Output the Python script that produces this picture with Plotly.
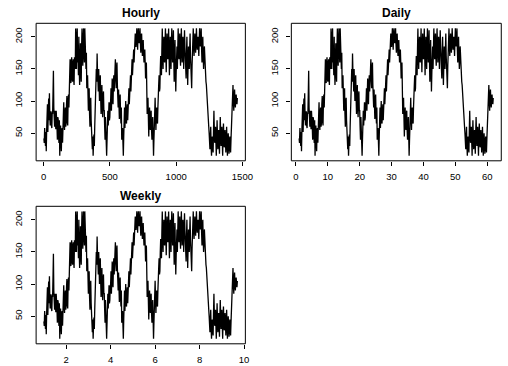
import plotly.graph_objects as go

W, H = 508, 366

# Series readings at hours 1, 7, 13, 19 of each day (61 days)
day_readings = [
    [42, 58, 30, 22], [78, 52, 104, 112], [62, 84, 58, 80], [147, 70, 85, 56],
    [78, 40, 72, 35], [15, 62, 22, 58], [60, 98, 55, 90], [65, 108, 62, 110],
    [120, 165, 128, 168], [130, 165, 125, 160], [213, 150, 213, 170], [200, 125, 190, 130],
    [213, 155, 213, 160], [200, 150, 120, 140], [85, 120, 60, 105], [50, 25, 15, 48],
    [60, 110, 150, 174], [135, 150, 100, 140], [80, 125, 75, 115], [85, 40, 60, 15],
    [70, 62, 98, 75], [100, 85, 135, 95], [140, 130, 165, 120], [160, 100, 118, 72],
    [110, 65, 40, 58], [15, 75, 58, 100], [65, 95, 85, 120], [110, 140, 130, 165],
    [150, 180, 175, 205], [185, 213, 180, 213], [190, 213, 175, 205], [170, 195, 160, 180],
    [135, 160, 80, 105], [45, 90, 55, 85], [40, 75, 15, 60], [105, 55, 90, 65],
    [100, 140, 120, 170], [140, 213, 150, 200], [160, 213, 145, 205], [165, 213, 140, 200],
    [150, 213, 160, 210], [130, 195, 115, 165], [150, 213, 165, 205], [155, 213, 160, 200],
    [150, 210, 170, 135], [200, 125, 185, 150], [205, 140, 120, 180], [213, 170, 205, 175],
    [213, 180, 200, 170], [213, 185, 213, 160], [200, 150, 185, 145], [130, 110, 95, 70],
    [50, 25, 60, 15], [45, 20, 85, 35], [60, 15, 70, 25], [55, 18, 75, 30],
    [60, 15, 65, 28], [55, 20, 60, 15], [50, 18, 45, 20], [65, 90, 125, 85],
    [118, 90, 110, 95],
]
# Readings at hours 4, 10, 16, 22 of each day
mid_readings = [
    [35, 40, 52, 55], [95, 85, 70, 75], [80, 62, 82, 110], [90, 60, 60, 85],
    [60, 75, 45, 70], [45, 30, 55, 35], [85, 65, 80, 60], [95, 70, 100, 90],
    [150, 130, 160, 135], [158, 135, 168, 150], [175, 200, 160, 140], [150, 170, 145, 185],
    [180, 195, 175, 213], [165, 175, 130, 110], [110, 80, 95, 70], [40, 45, 35, 30],
    [85, 90, 130, 145], [115, 125, 130, 105], [105, 90, 105, 85], [60, 75, 35, 40],
    [85, 90, 70, 95], [120, 110, 105, 125], [115, 150, 135, 150], [125, 90, 95, 100],
    [80, 90, 55, 35], [45, 90, 80, 70], [85, 70, 110, 95], [125, 115, 150, 140],
    [170, 160, 195, 185], [200, 195, 205, 195], [200, 190, 200, 185], [185, 175, 175, 160],
    [150, 120, 95, 70], [70, 65, 80, 55], [60, 45, 40, 85], [75, 80, 70, 90],
    [125, 115, 150, 150], [180, 175, 185, 165], [190, 175, 180, 175], [185, 175, 170, 170],
    [190, 180, 185, 165], [165, 150, 145, 185], [185, 190, 185, 170], [185, 190, 180, 175],
    [185, 185, 150, 175], [160, 155, 170, 180], [170, 150, 155, 200], [185, 190, 185, 195],
    [195, 190, 185, 195], [195, 200, 180, 185], [170, 165, 165, 140], [125, 100, 80, 60],
    [35, 45, 30, 35], [30, 55, 55, 50], [35, 45, 45, 40], [35, 50, 50, 45],
    [35, 45, 45, 40], [40, 40, 35, 35], [35, 30, 35, 40], [75, 110, 100, 105],
    [100, 105, 100, 105],
]

values = []
for day, mids in zip(day_readings, mid_readings):
    for a, b in zip(day, mids):
        values += [a, b]
hour_index = [1 + 3 * i for i in range(len(values))]
n_hours = 1464

panel_titles = ["Hourly", "Daily", "Weekly"]
hourly_ticks = [0, 500, 1000, 1500]
daily_ticks = [0, 10, 20, 30, 40, 50, 60]
weekly_ticks = [2, 4, 6, 8, 10]
y_ticks = [50, 100, 150, 200]

# time axis of each panel (frequency 1, 24 and 168 per unit)
x_hourly = hour_index
x_daily = [1 + (h - 1) / 24 for h in hour_index]
x_weekly = [1 + (h - 1) / 168 for h in hour_index]


def r_range(lo, hi):
    pad = 0.04 * (hi - lo)
    return [lo - pad, hi + pad]


yr = r_range(min(values), max(values))
xr_h = r_range(1, n_hours)
xr_d = r_range(1, 1 + (n_hours - 1) / 24)
xr_w = r_range(1, 1 + (n_hours - 1) / 168)

# plot boxes in pixels: (left, right, top, bottom)
box_h = (36.7, 249.3, 23.3, 160.8)
box_d = (296.0, 509.3, 23.3, 160.8)
box_w = (36.7, 249.3, 206.3, 343.8)

FONT = "Liberation Sans, Arial, Helvetica, sans-serif"
tickfont = dict(family=FONT, size=9.5, color="#000000")

fig = go.Figure()
for x, xa, ya in [(x_hourly, "x", "y"), (x_daily, "x2", "y2"), (x_weekly, "x3", "y3")]:
    fig.add_trace(go.Scatter(x=x, y=values, mode="lines", xaxis=xa, yaxis=ya,
                             line=dict(color="#000000", width=1.3), showlegend=False,
                             hoverinfo="skip"))


def xdom(b):
    return [b[0] / W, min(b[1], W) / W]


def ydom(b):
    return [1 - b[3] / H, 1 - b[2] / H]


def clip_range(rng, b):
    # the daily box runs past the right edge of the page; keep its scale
    if b[1] <= W:
        return rng
    span = rng[1] - rng[0]
    return [rng[0], rng[0] + span * (W - b[0]) / (b[1] - b[0])]


common_x = dict(showgrid=False, zeroline=False, showline=False, ticks="outside",
                ticklen=4, tickwidth=1, tickcolor="#000000", tickfont=tickfont,
                ticklabelstandoff=3)
common_y = dict(common_x, tickangle=-90, tickvals=y_ticks, range=yr,
                ticklabelstandoff=5)

layout = dict(width=W, height=H, margin=dict(l=0, r=0, t=0, b=0),
              paper_bgcolor="white", plot_bgcolor="white")
axes = [("xaxis", "yaxis", box_h, xr_h, hourly_ticks, "y", "x"),
        ("xaxis2", "yaxis2", box_d, xr_d, daily_ticks, "y2", "x2"),
        ("xaxis3", "yaxis3", box_w, xr_w, weekly_ticks, "y3", "x3")]
shapes = []
annotations = []
for (xk, yk, b, xr, xt, anchor_y, anchor_x), title in zip(axes, panel_titles):
    layout[xk] = dict(common_x, domain=xdom(b), range=clip_range(xr, b),
                      tickvals=xt, anchor=anchor_y)
    layout[yk] = dict(common_y, domain=ydom(b), anchor=anchor_x)
    shapes.append(dict(type="rect", xref="paper", yref="paper",
                       x0=b[0] / W, x1=b[1] / W, y0=1 - b[3] / H, y1=1 - b[2] / H,
                       line=dict(color="#000000", width=1), fillcolor="rgba(0,0,0,0)"))
    annotations.append(dict(text="<b>%s</b>" % title, xref="paper", yref="paper",
                            x=(b[0] + b[1]) / 2 / W, y=1 - (b[2] - 10.6) / H,
                            xanchor="center", yanchor="middle", showarrow=False,
                            font=dict(family=FONT, size=12, color="#000000")))

layout["shapes"] = shapes
layout["annotations"] = annotations
fig.update_layout(**layout)
fig.write_html("out.html")
